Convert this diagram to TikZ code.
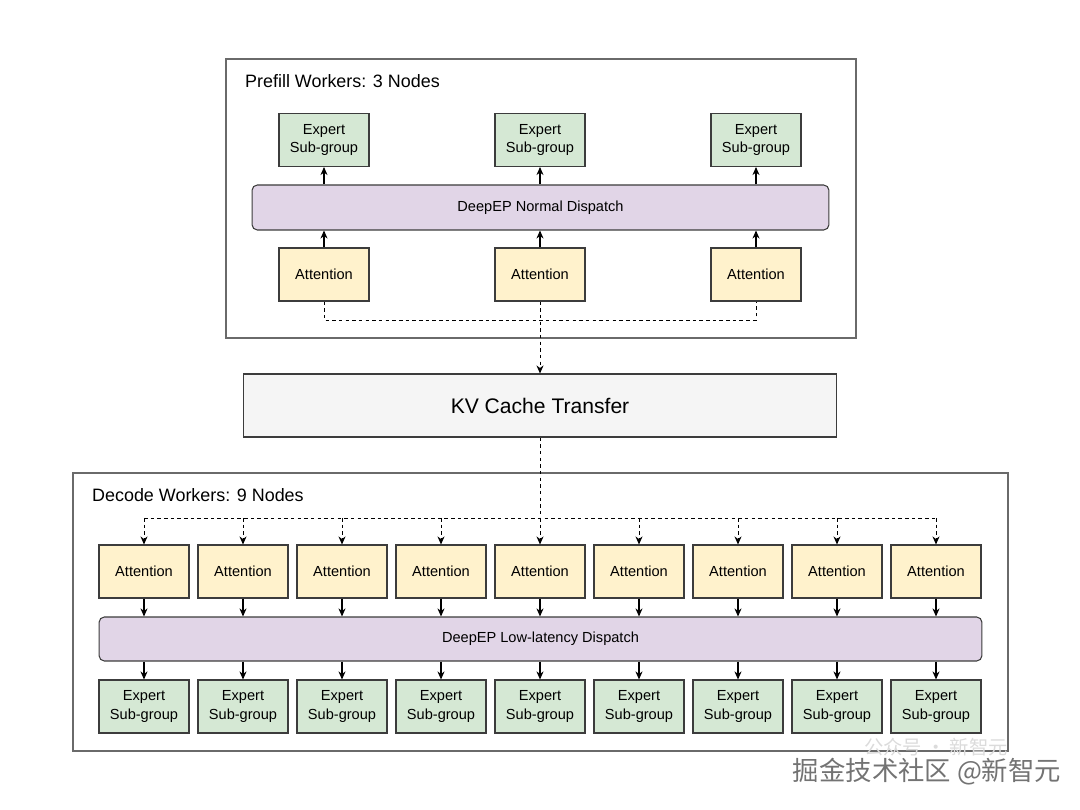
\documentclass[tikz,border=0pt]{standalone}
\usepackage{fontspec}
\setmainfont{Liberation Sans}
\newfontfamily\cjk{Noto Sans CJK SC}
\usepackage{xcolor}
\definecolor{attnfill}{HTML}{FFF2CC}
\definecolor{exptfill}{HTML}{D5E8D4}
\definecolor{dispfill}{HTML}{E1D5E7}
\definecolor{kvfill}{HTML}{F5F5F5}
\definecolor{edgegray}{HTML}{3C3C3C}
\definecolor{framegray}{HTML}{6A6A6A}
\usepackage{tikz}
\usetikzlibrary{positioning,arrows.meta,calc}

\begin{document}
\begin{tikzpicture}[x=0.02cm,y=-0.02cm,
    box/.style={draw=edgegray,line width=0.6pt,minimum width=1.8cm,minimum height=1.06cm,inner sep=1pt,align=center,font=\fontsize{8.3}{10.3}\selectfont},
    attn/.style={box,fill=attnfill},
    expt/.style={box,fill=exptfill},
    disp/.style={draw=edgegray,line width=0.6pt,fill=dispfill,rounded corners=3pt,font=\fontsize{8.3}{10}\selectfont},
    frame/.style={draw=framegray,line width=0.7pt},
    flow/.style={-{Stealth[length=4.6pt,width=4pt]},line width=0.6pt},
    dashes/.style={line width=0.45pt,dash pattern=on 2pt off 1.8pt},
    kvflow/.style={flow,dashes}]
	\useasboundingbox (0,0) rectangle (1080,810);
	
	%%% PREFILL WORKERS
	\draw[frame] (226,59) rectangle (856,338);
	\node[anchor=west,font=\fontsize{10.2}{12}\selectfont] (ptitle) at (239,81) {Prefill Workers: 3 Nodes};
	\foreach \i/\x in {1/324,2/540,3/756} {
		\node[expt] (pexp\i) at (\x,140) {Expert\\Sub-group};
		\node[attn] (patt\i) at (\x,274.5) {Attention};
	}
	\node[disp,minimum width=11.54cm,minimum height=0.9cm] (pdisp) at (540.5,207.5) {DeepEP Normal Dispatch};
	\foreach \i in {1,2,3} {
		\draw[flow] (patt\i) -- (patt\i |- pdisp.south);
		\draw[flow] (pexp\i |- pdisp.north) -- (pexp\i);
	}
	\coordinate (pjoin) at (540,320);
	\draw[dashes] (patt1) |- (pjoin -| patt3) -- (patt3);
	
	%%% KV CACHE
	\node[draw=edgegray,line width=0.6pt,fill=kvfill,minimum width=11.88cm,minimum height=1.26cm,font=\fontsize{12}{14}\selectfont] (kv) at (540,405.5) {KV Cache Transfer};
	\draw[kvflow] (patt2) -- (kv);
	
	%%% DECODE WORKERS
	\draw[frame] (73,473) rectangle (1008,751);
	\node[anchor=west,font=\fontsize{10.2}{12}\selectfont] (dtitle) at (86,495) {Decode Workers: 9 Nodes};
	\foreach \i [evaluate=\i as \x using 45+99*\i] in {1,...,9} {
		\node[attn] (datt\i) at (\x,571.5) {Attention};
		\node[expt] (dexp\i) at (\x,706.5) {Expert\\Sub-group};
	}
	\node[disp,minimum width=17.66cm,minimum height=0.88cm] (ddisp) at (540.5,639) {DeepEP Low-latency Dispatch};
	\coordinate (djoin) at (540,518);
	\draw[dashes] (kv) -- (djoin);
	\draw[dashes] (datt1 |- djoin) -- (datt9 |- djoin);
	\foreach \i in {1,...,9} {
		\draw[kvflow] (datt\i |- djoin) -- (datt\i);
		\draw[flow] (datt\i) -- (datt\i |- ddisp.north);
		\draw[flow] (dexp\i |- ddisp.south) -- (dexp\i);
	}
	
	%%% watermark
	\node[font=\cjk\fontsize{11}{11}\selectfont,text=black!14,inner sep=0pt] (wmback) at (936,747) {公众号 · 新智元};
	\node[font=\cjk\fontsize{15}{15}\selectfont,text=black!55,inner sep=0pt] (wmfront) at (927,772) {掘金技术社区 @新智元};
\end{tikzpicture}
\end{document}
